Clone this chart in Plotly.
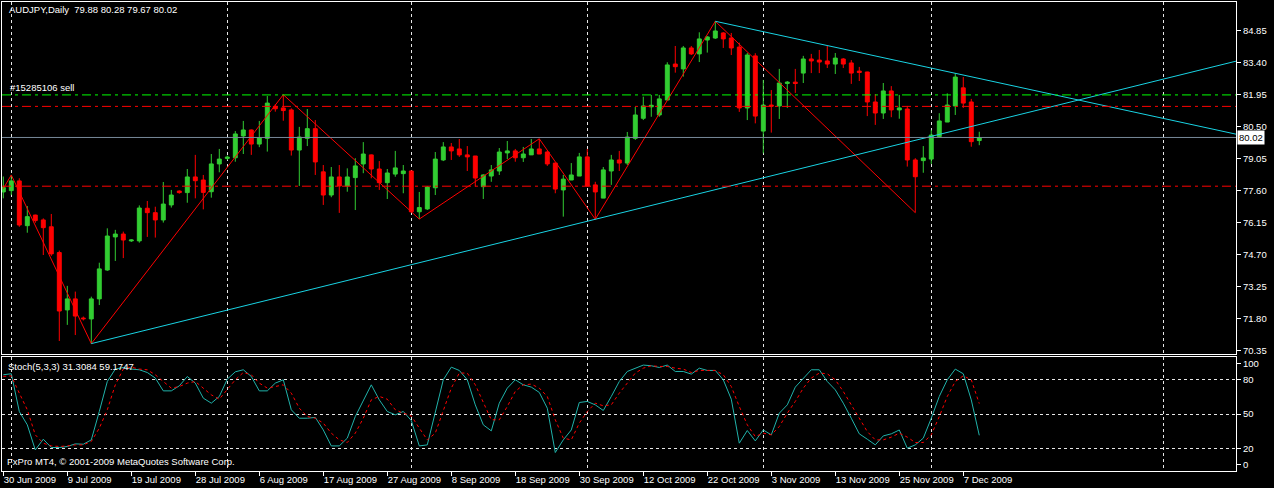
import plotly.graph_objects as go

# ---------------- data ----------------
symbol_title = "AUDJPY,Daily  79.88 80.28 79.67 80.02"
order_label = "#15285106 sell"
stoch_title = "Stoch(5,3,3) 31.3084 59.1747"
copyright_text = "FxPro MT4, © 2001-2009 MetaQuotes Software Corp."

opens = [77.55, 77.61, 78.05, 76.02, 76.50, 76.28, 75.97, 74.80, 72.20, 72.70,
         71.83, 71.79, 72.70, 74.01, 75.51, 75.64, 75.33, 75.33, 76.81, 76.61,
         76.28, 76.96, 77.59, 77.52, 78.23, 78.09, 77.56, 78.82, 79.07, 79.10,
         80.09, 80.36, 79.72, 79.98, 81.43, 81.36, 81.27, 79.45, 79.98, 80.42,
         78.46, 77.41, 78.23, 77.82, 78.20, 78.82, 79.23, 78.59, 77.97, 78.36,
         78.38, 78.50, 76.65, 76.78, 77.74, 79.00, 79.59, 79.50, 79.23, 79.18,
         77.79, 78.27, 78.50, 79.32, 79.41, 79.10, 79.23, 79.50, 79.36, 78.86,
         77.64, 78.09, 78.27, 79.14, 77.87, 77.27, 78.50, 79.00, 78.86, 79.98,
         80.89, 81.41, 81.04, 81.72, 83.35, 83.13, 84.08, 83.81, 84.44, 84.53,
         84.76, 84.53, 84.12, 81.36, 83.72, 80.31, 81.49, 81.45, 82.47, 82.53,
         82.94, 83.58, 83.53, 83.49, 83.35, 83.58, 83.40, 83.03, 82.99, 81.63,
         81.13, 82.13, 81.27, 81.31, 79.00, 78.97, 79.04, 80.06, 80.72, 81.45,
         82.27, 81.63, 79.88]
highs = [78.25, 78.32, 78.17, 76.91, 76.52, 76.35, 76.55, 74.89, 73.29, 73.03,
         71.90, 72.80, 74.34, 75.90, 75.83, 75.75, 75.40, 76.94, 77.14, 76.88,
         78.00, 77.64, 77.62, 78.59, 79.23, 78.32, 79.27, 79.50, 79.20, 80.31,
         80.77, 80.38, 80.77, 81.90, 81.53, 81.96, 81.34, 80.50, 81.31, 80.81,
         78.77, 78.68, 78.77, 78.62, 79.08, 79.81, 79.25, 78.95, 78.59, 79.41,
         78.77, 78.52, 77.55, 77.82, 79.36, 79.81, 79.77, 79.95, 79.63, 79.18,
         78.35, 78.77, 79.54, 79.86, 79.50, 79.59, 79.95, 79.96, 79.41, 78.87,
         78.32, 78.86, 79.32, 79.50, 78.01, 78.68, 79.23, 79.41, 80.27, 81.40,
         81.87, 81.95, 81.95, 83.43, 84.17, 84.17, 84.17, 84.79, 84.62, 85.29,
         84.80, 84.76, 84.32, 83.85, 83.84, 82.63, 82.17, 83.13, 82.58, 83.13,
         83.72, 83.81, 83.99, 84.17, 83.85, 83.62, 83.53, 83.22, 83.00, 81.99,
         82.49, 82.35, 81.95, 81.45, 79.08, 79.63, 80.36, 81.12, 82.02, 82.93,
         82.76, 81.77, 80.28]
lows = [77.26, 77.41, 75.97, 75.70, 76.15, 74.69, 74.65, 70.79, 71.52, 71.06,
        71.72, 70.67, 72.42, 73.97, 74.42, 74.55, 75.28, 75.25, 75.51, 75.48,
        76.16, 76.84, 77.47, 77.06, 77.26, 76.76, 77.29, 78.44, 79.00, 78.92,
        79.27, 79.23, 79.58, 79.38, 81.19, 80.78, 79.20, 77.82, 79.63, 78.32,
        76.96, 77.31, 76.60, 77.56, 76.73, 78.40, 78.17, 77.64, 77.23, 78.24,
        77.49, 76.61, 76.32, 76.73, 77.41, 78.95, 79.00, 79.14, 78.50, 77.79,
        77.23, 78.01, 78.32, 79.04, 78.92, 78.91, 79.23, 79.27, 78.73, 77.49,
        76.43, 78.09, 78.27, 77.80, 76.31, 77.27, 77.87, 78.50, 78.77, 79.91,
        80.81, 80.96, 80.96, 81.72, 82.96, 82.78, 83.76, 83.44, 83.87, 84.49,
        84.08, 83.76, 81.18, 80.81, 80.66, 79.30, 80.24, 80.86, 81.36, 82.04,
        82.49, 82.94, 82.94, 83.17, 82.90, 83.17, 82.45, 82.58, 80.99, 80.59,
        80.86, 80.94, 80.87, 78.70, 76.61, 78.42, 78.82, 80.03, 80.72, 81.04,
        81.36, 79.60, 79.67]
closes = [77.75, 78.05, 76.05, 76.43, 76.25, 75.93, 74.74, 72.15, 72.70, 71.92,
          71.80, 72.70, 74.06, 75.55, 75.64, 75.37, 75.37, 76.82, 76.61, 76.28,
          77.00, 77.41, 77.52, 78.23, 78.06, 77.53, 78.82, 79.04, 79.13, 80.18,
          80.36, 79.72, 80.01, 81.58, 81.32, 81.24, 79.45, 80.04, 80.42, 78.91,
          77.41, 78.23, 77.82, 78.23, 78.73, 79.27, 78.59, 77.97, 78.41, 78.64,
          78.50, 76.65, 76.84, 77.77, 79.04, 79.59, 79.41, 79.23, 79.14, 78.18,
          78.32, 78.55, 79.36, 79.41, 79.10, 79.27, 79.50, 79.27, 78.82, 77.68,
          78.13, 78.32, 79.14, 77.82, 77.55, 78.55, 79.00, 78.86, 80.04, 81.04,
          81.45, 81.48, 81.77, 83.31, 83.23, 84.08, 83.81, 84.49, 84.58, 84.85,
          84.49, 84.08, 81.36, 83.76, 80.99, 81.49, 81.44, 82.49, 82.53, 82.47,
          83.58, 83.49, 83.44, 83.35, 83.62, 83.35, 82.94, 82.97, 81.63, 81.13,
          82.13, 81.27, 81.36, 79.00, 78.24, 79.09, 80.13, 80.77, 81.49, 82.76,
          81.58, 79.83, 80.02]

stoch_k = [84.4, 85.3, 52.2, 40.5, 18.5, 27.9, 20.6, 20.6, 21.5, 23.8,
           23.5, 27.3, 52.2, 78.5, 89.4, 90.8, 89.4, 88.8, 86.4, 81.5,
           70.3, 70.3, 74.7, 82.9, 77.1, 63.9, 59.5, 65.4, 80.6, 87.0,
           88.8, 82.9, 70.3, 70.3, 77.1, 80.0, 53.7, 46.3, 46.3, 47.0,
           36.0, 22.0, 22.0, 28.8, 47.8, 62.4, 75.6, 62.4, 52.2, 49.3,
           52.2, 44.3, 22.0, 22.9, 50.7, 80.0, 91.1, 88.2, 80.0, 58.0,
           40.5, 35.2, 59.5, 72.7, 80.0, 75.6, 73.6, 68.9, 55.1, 16.2,
           27.3, 36.0, 60.1, 61.0, 58.0, 53.1, 65.4, 78.5, 87.3, 90.2,
           92.9, 92.3, 90.8, 92.9, 87.3, 87.3, 85.0, 90.2, 88.2, 88.2,
           80.0, 63.0, 24.4, 35.5, 26.4, 36.0, 31.7, 50.7, 58.0, 73.6,
           81.5, 88.8, 88.8, 78.5, 71.2, 59.5, 46.3, 32.6, 27.9, 22.9,
           30.8, 32.6, 36.0, 20.0, 22.9, 28.8, 46.3, 65.4, 80.0, 89.4,
           85.3, 62.4, 31.31]
stoch_d = [83.0, 83.5, 68.3, 53.7, 31.7, 24.4, 22.0, 21.5, 22.0, 22.9,
           22.9, 25.9, 37.6, 53.7, 75.6, 89.4, 91.1, 89.4, 88.8, 84.4,
           78.5, 72.7, 74.1, 77.1, 78.5, 72.7, 66.8, 63.0, 71.2, 80.0,
           86.4, 84.4, 77.1, 72.7, 74.1, 75.6, 68.3, 55.1, 47.8, 46.3,
           42.0, 33.2, 27.3, 25.0, 33.2, 46.3, 62.4, 65.4, 63.0, 53.7,
           50.7, 48.4, 37.6, 27.3, 33.2, 52.2, 72.7, 85.9, 85.9, 75.6,
           59.5, 44.9, 44.9, 56.6, 69.8, 75.6, 76.2, 72.7, 65.4, 44.9,
           28.8, 27.3, 42.0, 52.2, 59.5, 57.2, 58.0, 68.3, 77.1, 85.9,
           90.2, 92.3, 91.7, 91.7, 90.2, 89.4, 86.4, 88.2, 88.2, 88.2,
           84.4, 74.1, 56.6, 40.5, 30.2, 33.2, 31.7, 39.0, 50.7, 61.0,
           72.7, 81.5, 85.9, 85.3, 80.0, 69.8, 58.0, 46.3, 34.6, 27.3,
           27.3, 29.7, 33.2, 29.7, 25.0, 25.0, 31.7, 47.8, 65.4, 78.5,
           83.5, 80.0, 59.17]

date_labels = ["30 Jun 2009", "9 Jul 2009", "19 Jul 2009", "28 Jul 2009",
               "6 Aug 2009", "17 Aug 2009", "27 Aug 2009", "8 Sep 2009",
               "18 Sep 2009", "30 Sep 2009", "12 Oct 2009", "22 Oct 2009",
               "3 Nov 2009", "13 Nov 2009", "25 Nov 2009", "7 Dec 2009"]
date_label_bars = [0, 8, 16, 24, 32, 40, 48, 56, 64, 72, 80, 88, 96, 104, 112, 120]
month_start_bars = [1, 28, 51, 73, 95, 116, 145]

price_ticks = [70.35, 71.80, 73.25, 74.70, 76.15, 77.60, 79.05, 80.50, 81.95, 83.40, 84.85]
stoch_levels = [20, 50, 80]
stoch_edge_ticks = [0, 100]

order_open = 81.95
order_sl = 81.43
order_tp = 77.81
last_price = 80.02

zigzag_bars = [0, 1, 11, 35, 52, 67, 74, 89, 114]
zigzag_prices = [77.70, 78.32, 70.67, 81.96, 76.32, 79.96, 76.31, 85.29, 76.61]

trend_up = [(11, 70.67), (74, 76.31)]
trend_down = [(89, 85.29), (119, 82.93)]

# ---------------- figure ----------------
bars = list(range(len(opens)))
X_RANGE = [-0.1625, 154.09]
Y_RANGE = [70.20, 86.164]

WHITE = "#FFFFFF"
GRID = "#E6E6E6"
CYAN = "#19D3E3"

fig = go.Figure()

fig.add_trace(go.Candlestick(
    x=bars, open=opens, high=highs, low=lows, close=closes,
    increasing=dict(line=dict(color="#32CD32", width=1), fillcolor="#32CD32"),
    decreasing=dict(line=dict(color="#FF0000", width=1), fillcolor="#FF0000"),
    whiskerwidth=0, hoverinfo="skip", showlegend=False,
    xaxis="x", yaxis="y"))

# zigzag
fig.add_trace(go.Scatter(x=zigzag_bars, y=zigzag_prices, mode="lines",
                         line=dict(color="#FF0000", width=1),
                         hoverinfo="skip", showlegend=False, xaxis="x", yaxis="y"))


def ray(points, x_end):
    (b1, p1), (b2, p2) = points
    slope = (p2 - p1) / (b2 - b1)
    return [b1, x_end], [p1, p1 + slope * (x_end - b1)]


for pts in (trend_up, trend_down):
    xs, ys = ray(pts, X_RANGE[1])
    fig.add_trace(go.Scatter(x=xs, y=ys, mode="lines", line=dict(color=CYAN, width=1),
                             hoverinfo="skip", showlegend=False, xaxis="x", yaxis="y"))

# horizontal order / price lines
for lvl, col, dash in [(order_open, "#00FF00", "9px,4px,3px,4px"),
                       (order_sl, "#FF0000", "9px,4px,3px,4px"),
                       (order_tp, "#FF0000", "9px,4px,3px,4px"),
                       (last_price, "#778899", "solid")]:
    fig.add_trace(go.Scatter(x=X_RANGE, y=[lvl, lvl], mode="lines",
                             line=dict(color=col, width=1, dash=dash),
                             hoverinfo="skip", showlegend=False, xaxis="x", yaxis="y"))

# stochastic
fig.add_trace(go.Scatter(x=bars, y=stoch_k, mode="lines",
                         line=dict(color="#20B2AA", width=1),
                         hoverinfo="skip", showlegend=False, xaxis="x2", yaxis="y2"))
fig.add_trace(go.Scatter(x=bars, y=stoch_d, mode="lines",
                         line=dict(color="#FF0000", width=1, dash="3px,3px"),
                         hoverinfo="skip", showlegend=False, xaxis="x3", yaxis="y2"))
# invisible carrier so the 0/100 label axis is drawn
fig.add_trace(go.Scatter(x=bars, y=stoch_k, mode="lines", opacity=0,
                         line=dict(width=0), hoverinfo="skip", showlegend=False,
                         xaxis="x3", yaxis="y3"))

FONT = "Liberation Sans"
tickfont = dict(family=FONT, size=9.5, color=WHITE)

main_bottom = (471 - 354) / 469
stoch_top = (471 - 357) / 469

common = dict(automargin=False, zeroline=False, fixedrange=True)

fig.update_layout(
    template="none",
    width=1274, height=488,
    margin=dict(l=2, r=38, t=2, b=17, autoexpand=False),
    paper_bgcolor="#000000", plot_bgcolor="#000000",
    showlegend=False,
    xaxis=dict(domain=[0, 1], anchor="y", range=X_RANGE,
               tickvals=month_start_bars, showticklabels=False, ticks="",
               showgrid=True, gridcolor=GRID, griddash="3px,3px", gridwidth=1,
               showline=True, mirror=True, linecolor=WHITE, linewidth=1,
               rangeslider=dict(visible=False), **common),
    yaxis=dict(domain=[main_bottom, 1], anchor="x", side="right", range=Y_RANGE,
               tickvals=price_ticks, ticktext=[f"{v:.2f}" for v in price_ticks],
               ticks="outside", ticklen=4, tickcolor=WHITE, tickfont=tickfont,
               showgrid=False, showline=True, mirror=True, linecolor=WHITE,
               linewidth=1, **common),
    xaxis2=dict(domain=[0, 1], anchor="y2", range=X_RANGE,
                tickvals=month_start_bars, showticklabels=False, ticks="",
                showgrid=True, gridcolor=GRID, griddash="3px,3px",
                showline=True, mirror=True, linecolor=WHITE, linewidth=1,
                **common),
    xaxis3=dict(overlaying="x2", anchor="y2", side="bottom", range=X_RANGE,
                tickvals=date_label_bars, ticktext=date_labels,
                ticks="outside", ticklen=4, tickcolor=WHITE, tickfont=tickfont,
                ticklabelposition="outside right",
                showgrid=False, showline=False, **common),
    yaxis2=dict(domain=[0, stoch_top], anchor="x2", side="right", range=[0, 100],
                tickvals=stoch_levels, ticks="outside", ticklen=4, tickcolor=WHITE,
                tickfont=tickfont, showgrid=True, gridcolor=GRID, griddash="3px,3px",
                showline=True, mirror=True, linecolor=WHITE, linewidth=1,
                **common),
    yaxis3=dict(overlaying="y2", anchor="x3", side="right", range=[-6.6, 106.3],
                tickvals=stoch_edge_ticks, ticks="outside", ticklen=4,
                tickcolor=WHITE, tickfont=tickfont, showgrid=False,
                showline=False, **common),
)

ann_font = dict(family=FONT, size=9.5, color=WHITE)
fig.add_annotation(text=symbol_title, xref="paper", yref="paper",
                   x=(7 - 2) / 1234, y=(471 - 10) / 469, xanchor="left",
                   yanchor="middle", showarrow=False, font=ann_font)
fig.add_annotation(text=order_label, xref="paper", yref="y",
                   x=(8 - 2) / 1234, y=order_open, xanchor="left",
                   yanchor="bottom", showarrow=False, font=ann_font)
fig.add_annotation(text=stoch_title, xref="paper", yref="paper",
                   x=(6 - 2) / 1234, y=(471 - 366) / 469, xanchor="left",
                   yanchor="middle", showarrow=False, font=ann_font)
fig.add_annotation(text=copyright_text, xref="paper", yref="paper",
                   x=(5 - 2) / 1234, y=(471 - 461) / 469, xanchor="left",
                   yanchor="middle", showarrow=False, font=ann_font)
fig.add_annotation(text=f"{last_price:.2f}", xref="paper", yref="y",
                   x=1, y=last_price, xanchor="left", yanchor="middle",
                   xshift=1, showarrow=False, bgcolor=WHITE, borderpad=1,
                   font=dict(family=FONT, size=9.5, color="#000000"))

fig.write_html("out.html", config={"displayModeBar": False},
               post_script="document.body.style.margin='0';")
